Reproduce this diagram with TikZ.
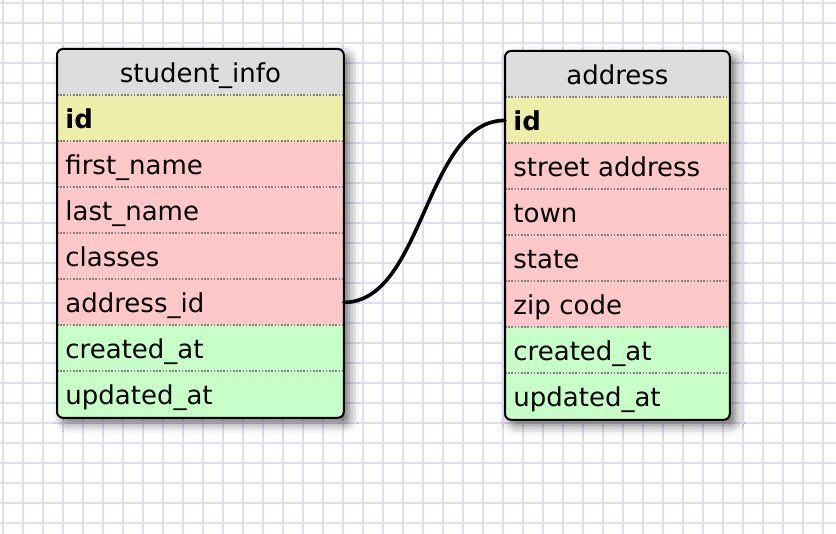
\documentclass[tikz,border=0pt]{standalone}
\usepackage{fontspec}
\setmainfont{DejaVu Sans}
\usetikzlibrary{shadows.blur}

\definecolor{gridline}{RGB}{222,222,246}
\definecolor{headfill}{RGB}{221,221,221}
\definecolor{keyfill}{RGB}{238,238,170}
\definecolor{fieldfill}{RGB}{255,200,200}
\definecolor{stampfill}{RGB}{200,255,200}

\begin{document}
\begin{tikzpicture}[x=.5pt, y=-.5pt,
  table row/.style={anchor=north west, inner xsep=4pt, inner ysep=0pt,
    minimum height=23pt, text height=12pt, text depth=2pt, align=left,
    font=\fontsize{13}{15}\selectfont},
  table head/.style={table row, fill=headfill, align=center},
  rowline/.style={gray, dash pattern=on .8pt off .8pt, line width=.7pt},
  table border/.style={draw=black, line width=1pt, rounded corners=3pt},
  table shadow/.style={fill=white, rounded corners=3pt,
    blur shadow={shadow xshift=3pt, shadow yshift=-3pt, shadow blur radius=5pt, shadow opacity=60}},
  link/.style={line width=1.8pt, line cap=round}]

\useasboundingbox (0,0) rectangle (836,534);

\foreach \gx in {3,23,...,833}
  \draw[gridline, line width=1.1pt] (\gx,0) -- (\gx,534);
\foreach \gy in {3,23,...,523}
  \draw[gridline, line width=1.1pt] (0,\gy) -- (836,\gy);

\fill[table shadow] (57,49) rectangle (343,417);
\fill[table shadow] (505,51) rectangle (729,419);

\begin{scope}
  \clip[rounded corners=3pt] (57,49) rectangle (343,417);
  \node[table head, text width=135pt] (info-0) at (57,49) {student\_info};
  \foreach \txt/\f [count=\y] in {\textbf{id}/keyfill, first\_name/fieldfill,
      last\_name/fieldfill, classes/fieldfill, address\_id/fieldfill,
      created\_at/stampfill, updated\_at/stampfill}
    \node[table row, fill=\f, text width=135pt] (info-\y) at (57,49+46*\y) {\txt};
\end{scope}

\begin{scope}
  \clip[rounded corners=3pt] (505,51) rectangle (729,419);
  \node[table head, text width=104pt] (addr-0) at (505,51) {address};
  \foreach \txt/\f [count=\y] in {\textbf{id}/keyfill, street address/fieldfill,
      town/fieldfill, state/fieldfill, zip code/fieldfill,
      created\_at/stampfill, updated\_at/stampfill}
    \node[table row, fill=\f, text width=104pt] (addr-\y) at (505,51+46*\y) {\txt};
\end{scope}

\foreach \y in {1,...,7} {
  \draw[rowline] (info-\y.north west) -- (info-\y.north east);
  \draw[rowline] (addr-\y.north west) -- (addr-\y.north east);
}

\draw[table border] (info-0.north west) rectangle (info-7.south east);
\draw[table border] (addr-0.north west) rectangle (addr-7.south east);

\draw[link] (info-5.east) .. controls +(80,0) and +(-80,0) .. (addr-1.west);

\end{tikzpicture}
\end{document}
